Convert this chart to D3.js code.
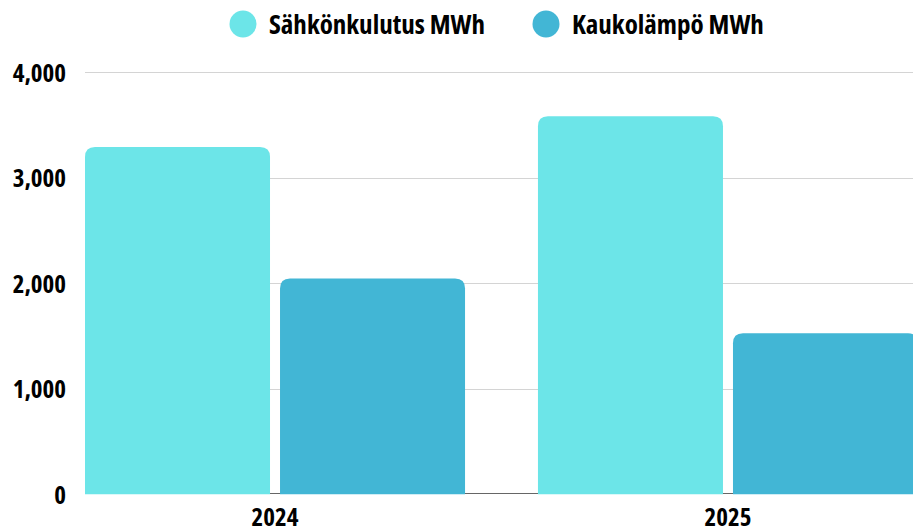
<!DOCTYPE html>
<html>
<head>
<meta charset="utf-8">
<script src="https://cdn.jsdelivr.net/npm/d3@7"></script>
<style>
  body { margin: 0; background: #fff; }
  text { font-family: "Open Sans", "Liberation Sans Narrow", sans-serif; font-stretch: 75%; font-weight: 700; fill: #000; }
</style>
</head>
<body>
<svg id="chart" width="913" height="530"></svg>
<script>
const years = ["2024", "2025"];
const seriesNames = ["Sähkönkulutus MWh", "Kaukolämpö MWh"];
const electricity = [3290, 3580];
const districtHeat = [2045, 1525];
const yTicks = [0, 1000, 2000, 3000, 4000];
const colors = ["#6ce5e8", "#42b6d5"];

function drawChart() {
  const svg = d3.select("#chart");
  const width = +svg.attr("width");

  // scales
  const x = d3.scaleBand().domain(years).range([85, 918]).paddingInner(0.161).paddingOuter(0);
  const xSub = d3.scaleBand().domain([0, 1]).range([0, x.bandwidth()]).paddingInner(0.0513);
  const y = d3.scaleLinear().domain([0, 4000]).range([494.3, 72]);

  // grid
  svg.append("g")
    .selectAll("line")
    .data(yTicks.slice(1))
    .enter()
    .append("line")
    .attr("x1", 85)
    .attr("x2", width)
    .attr("y1", (d) => Math.round(y(d)) + 0.5)
    .attr("y2", (d) => Math.round(y(d)) + 0.5)
    .attr("stroke", "#d4d4d4")
    .attr("stroke-width", 1);

  // baseline
  svg.append("line")
    .attr("x1", 85)
    .attr("x2", width)
    .attr("y1", Math.round(y(0)) - 0.5)
    .attr("y2", Math.round(y(0)) - 0.5)
    .attr("stroke", "#666")
    .attr("stroke-width", 1);

  // y axis labels
  const yAxis = svg.append("g")
    .attr("transform", "translate(66,0)")
    .call(d3.axisLeft(y).tickValues(yTicks).tickFormat(d3.format(",")).tickSize(0).tickPadding(0));
  yAxis.select(".domain").remove();
  yAxis.selectAll("text").style("font-size", "25px").attr("dy", "0.36em");

  // x axis labels
  const xAxis = svg.append("g")
    .attr("transform", "translate(0,503)")
    .call(d3.axisBottom(x).tickSize(0).tickPadding(0));
  xAxis.select(".domain").remove();
  xAxis.selectAll("text").style("font-size", "25px").attr("dy", "0.92em");

  // rounded top bars
  const r = 10;
  function barPath(x0, y0, w, h) {
    const rr = Math.min(r, h, w / 2);
    return `M${x0},${y0 + h}V${y0 + rr}Q${x0},${y0} ${x0 + rr},${y0}` +
      `H${x0 + w - rr}Q${x0 + w},${y0} ${x0 + w},${y0 + rr}V${y0 + h}Z`;
  }

  const rows = years.map((yr, i) => ({ year: yr, values: [electricity[i], districtHeat[i]] }));

  svg.append("g")
    .selectAll("g")
    .data(rows)
    .enter()
    .append("g")
    .attr("transform", (d) => `translate(${x(d.year)},0)`)
    .selectAll("path")
    .data((d) => d.values.map((v, j) => ({ v, j })))
    .enter()
    .append("path")
    .attr("fill", (d) => colors[d.j])
    .attr("d", (d) => barPath(xSub(d.j), y(d.v), xSub.bandwidth(), y(0) - y(d.v)));

  // legend
  const legendX = [243, 546];
  const legend = svg.append("g")
    .selectAll("g")
    .data(seriesNames)
    .enter()
    .append("g")
    .attr("transform", (d, i) => `translate(${legendX[i]},24)`);
  legend.append("circle").attr("r", 13.5).attr("fill", (d, i) => colors[i]);
  legend.append("text")
    .attr("x", 26)
    .attr("dy", "0.36em")
    .style("font-size", "27px")
    .text((d) => d);
}

drawChart();
</script>
</body>
</html>
